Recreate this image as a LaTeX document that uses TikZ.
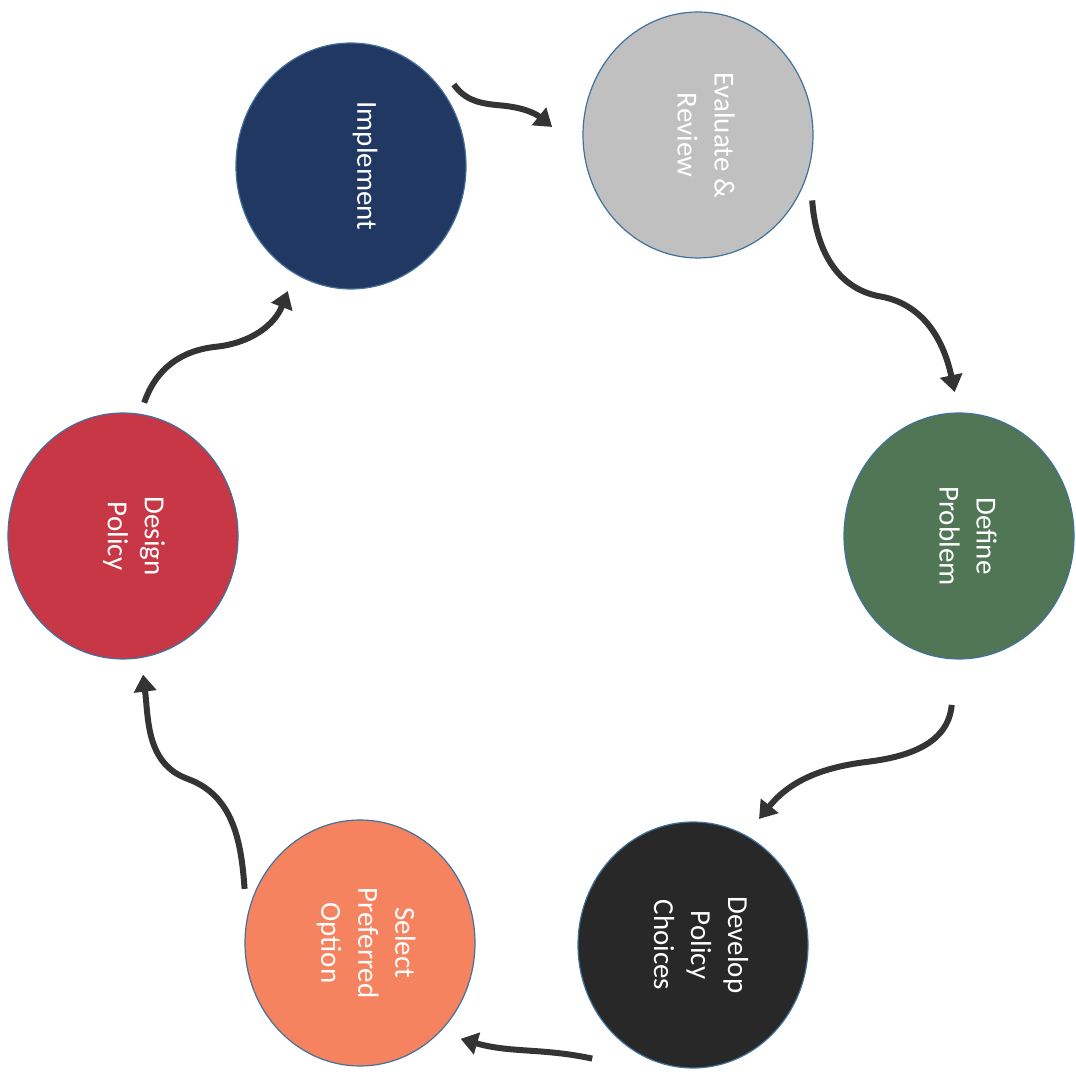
\documentclass[tikz,border=0pt]{standalone}
\usepackage{fontspec}
\setmainfont{Carlito}
\usetikzlibrary{shapes.geometric,arrows.meta}
\definecolor{cimpl}{RGB}{33,56,98}
\definecolor{ceval}{RGB}{192,192,192}
\definecolor{cdefn}{RGB}{80,118,86}
\definecolor{cdev}{RGB}{40,40,40}
\definecolor{csel}{RGB}{246,131,96}
\definecolor{cdes}{RGB}{200,55,70}
\definecolor{cedge}{RGB}{65,113,156}
\definecolor{carrow}{RGB}{52,52,52}
\tikzset{
  stage/.style={ellipse, draw=cedge, line width=1.2pt, minimum width=230pt, minimum height=246pt, inner sep=0pt, outer sep=0pt},
  lbl/.style={rotate=-90, text=white, align=center, font=\fontsize{29}{37}\selectfont, inner sep=0pt},
  flow/.style={draw=carrow, line width=6pt, -{Triangle[width=22pt,length=17pt]}}
}
\begin{document}
\begin{tikzpicture}[x=1pt,y=1pt]
\useasboundingbox (0,0) rectangle (1076,1071);
% stages
\node[stage, fill=cimpl] (impl) at (351,905) {};
\node[stage, fill=ceval] (eval) at (698,936) {};
\node[stage, fill=cdefn] (defn) at (959,535) {};
\node[stage, fill=cdev]  (dev)  at (693,126) {};
\node[stage, fill=csel]  (sel)  at (360,128) {};
\node[stage, fill=cdes]  (des)  at (123,535) {};
% labels
\node[lbl] (impl-t) at ([xshift=14pt]impl.center) {Implement};
\node[lbl] (eval-t) at ([xshift=8pt]eval.center) {Evaluate \&\\Review};
\node[lbl] (defn-t) at ([xshift=9pt]defn.center) {Define\\Problem};
\node[lbl] (dev-t)  at ([xshift=8pt]dev.center) {Develop\\Policy\\Choices};
\node[lbl] (sel-t)  at ([xshift=6pt]sel.center) {Select\\Preferred\\Option};
\node[lbl] (des-t)  at ([xshift=11pt]des.center) {Design\\Policy};
% connectors
\draw[flow] ([shift={(10,9)}]impl.38) to[out=-55,in=175] ++(47,-21) to[out=-5,in=141] ([shift={(-31,2)}]eval.177);
\draw[flow] ([shift={(13,-7)}]eval.330) to[out=-86,in=170] ++(68,-96) to[out=-10,in=102] ([shift={(0,21)}]defn.92);
\draw[flow] ([shift={(-3,-46)}]defn.268) to[out=-95,in=7] ++(-85,-57) to[out=187,in=51] ([shift={(11,18)}]dev.63);
\draw[flow] ([shift={(-21,-25)}]dev.228) to[out=168,in=-16] ([shift={(14,-15)}]sel.-43);
\draw[flow] ([shift={(-10,5)}]sel.155) to[out=94,in=-20] ++(-57,110) to[out=160,in=-83] ([shift={(3,-17)}]des.-82);
\draw[flow] ([shift={(2,12)}]des.81) to[out=71,in=186] ++(72,56) to[out=6,in=-111] ([shift={(-10,-16)}]impl.244);
\end{tikzpicture}
\end{document}
